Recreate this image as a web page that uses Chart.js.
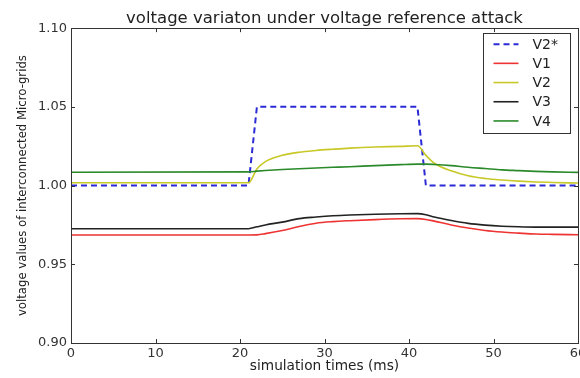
<!DOCTYPE html>
<html>
<head>
<meta charset="utf-8">
<script src="https://cdn.jsdelivr.net/npm/chart.js@4.4.1/dist/chart.umd.min.js"></script>
<style>
  html, body { margin: 0; padding: 0; background: #fff; }
  #chart-canvas { display: block; }
</style>
</head>
<body>
<canvas id="chart-canvas" width="580" height="378"></canvas>
<script>
// simulation time (ms)
const times = [0, 21, 22, 23, 25, 27, 29, 31, 33, 36, 39, 41, 42, 43, 45, 47, 49, 51, 53, 55, 57, 60];
const v2ref = [1.0, 1.0, 1.05, 1.05, 1.05, 1.05, 1.05, 1.05, 1.05, 1.05, 1.05, 1.05, 1.0, 1.0, 1.0, 1.0, 1.0, 1.0, 1.0, 1.0, 1.0, 1.0];
const v1 = [0.9686, 0.9686, 0.9687, 0.9695, 0.9715, 0.974, 0.9761, 0.9771, 0.9777, 0.9784, 0.9789, 0.979, 0.9785, 0.9774, 0.975, 0.973, 0.9715, 0.9705, 0.9698, 0.9692, 0.969, 0.9688];
const v2 = [1.0018, 1.0018, 1.0105, 1.0152, 1.0192, 1.0212, 1.0223, 1.0231, 1.0238, 1.0245, 1.0249, 1.0253, 1.0192, 1.0142, 1.0094, 1.0062, 1.0045, 1.0035, 1.0028, 1.0023, 1.002, 1.0016];
const v3 = [0.9726, 0.9726, 0.9738, 0.975, 0.9768, 0.979, 0.98, 0.9808, 0.9813, 0.9818, 0.9821, 0.9822, 0.9815, 0.98, 0.9778, 0.976, 0.9749, 0.9742, 0.9738, 0.9736, 0.9736, 0.9736];
const v4 = [1.0085, 1.0087, 1.0092, 1.0096, 1.0102, 1.0107, 1.0112, 1.0116, 1.012, 1.0127, 1.0133, 1.0136, 1.0136, 1.0134, 1.0127, 1.0116, 1.0108, 1.01, 1.0095, 1.009, 1.0087, 1.0084];

const seriesNames = ["V2*", "V1", "V2", "V3", "V4"];
const seriesValues = [v2ref, v1, v2, v3, v4];
const seriesColors = ["#2b2bd6", "#ee3333", "#c8c828", "#222222", "#2a8a2a"];

const xTicks = [0, 10, 20, 30, 40, 50, 60];
const yTicks = [0.9, 0.95, 1.0, 1.05, 1.1];

const FONT = "'DejaVu Sans', 'Liberation Sans', sans-serif";

function toPoints(values) {
  return times.map((t, i) => ({ x: t, y: values[i] }));
}

const datasets = seriesNames.map((name, i) => ({
  label: name,
  data: toPoints(seriesValues[i]),
  borderColor: seriesColors[i],
  backgroundColor: seriesColors[i],
  borderWidth: i === 0 ? 2 : 1.6,
  borderDash: i === 0 ? [6, 4] : [],
  pointRadius: 0,
  tension: 0,
  cubicInterpolationMode: i === 0 ? "default" : "monotone",
  order: seriesNames.length - i,
}));

// frame + inward ticks, like the original plot
const framePlugin = {
  id: "frame",
  afterDatasetsDraw(chart) {
    const { ctx, chartArea: a, scales } = chart;
    ctx.save();
    ctx.strokeStyle = "#333";
    ctx.lineWidth = 1;
    ctx.beginPath();
    xTicks.forEach((t) => {
      const px = Math.round(scales.x.getPixelForValue(t)) + 0.5;
      ctx.moveTo(px, a.bottom); ctx.lineTo(px, a.bottom - 4);
      ctx.moveTo(px, a.top); ctx.lineTo(px, a.top + 4);
    });
    yTicks.forEach((t) => {
      const py = Math.round(scales.y.getPixelForValue(t)) + 0.5;
      ctx.moveTo(a.left, py); ctx.lineTo(a.left + 4, py);
      ctx.moveTo(a.right, py); ctx.lineTo(a.right - 4, py);
    });
    ctx.stroke();
    ctx.strokeRect(Math.round(a.left) + 0.5, Math.round(a.top) + 0.5,
      Math.round(a.right - a.left), Math.round(a.bottom - a.top));
    ctx.restore();
  },
};

// legend box drawn inside the plot, upper right
const boxLegendPlugin = {
  id: "boxLegend",
  afterDraw(chart) {
    const { ctx, chartArea: a } = chart;
    const w = 87, h = 100;
    const left = a.right - 95.5;
    const top = a.top + 5;
    ctx.save();
    ctx.fillStyle = "#fff";
    ctx.fillRect(left, top, w, h);
    ctx.strokeStyle = "#333";
    ctx.lineWidth = 1;
    ctx.strokeRect(Math.round(left) + 0.5, Math.round(top) + 0.5, w, h);
    ctx.font = "14px " + FONT;
    ctx.textBaseline = "middle";
    chart.data.datasets.forEach((ds, i) => {
      const y = top + 11 + i * 19.2;
      ctx.strokeStyle = ds.borderColor;
      ctx.lineWidth = ds.borderWidth;
      ctx.setLineDash(ds.borderDash);
      ctx.beginPath();
      ctx.moveTo(left + 11, y);
      ctx.lineTo(left + 36, y);
      ctx.stroke();
      ctx.setLineDash([]);
      ctx.fillStyle = "#222";
      ctx.fillText(ds.label, left + 50, y + 1);
    });
    ctx.restore();
  },
};

const ctx = document.getElementById("chart-canvas").getContext("2d");
const myChart = new Chart(ctx, {
  type: "line",
  data: { datasets },
  options: {
    responsive: false,
    animation: false,
    layout: { padding: { left: 0, right: 2, top: 0, bottom: 0 } },
    plugins: {
      legend: { display: false },
      tooltip: { enabled: false },
      title: {
        display: true,
        fullSize: false,
        text: "voltage variaton under voltage reference attack",
        color: "#222",
        font: { family: FONT, size: 16.5, weight: "normal", lineHeight: 1.1 },
        padding: { top: 10, bottom: 0 },
      },
    },
    scales: {
      x: {
        type: "linear",
        min: 0,
        max: 60,
        grid: { display: false, drawTicks: false },
        border: { display: false },
        afterBuildTicks: (scale) => { scale.ticks = xTicks.map((v) => ({ value: v })); },
        ticks: {
          color: "#333",
          padding: 3,
          maxRotation: 0,
          autoSkip: false,
          font: { family: FONT, size: 13 },
          callback: (v) => String(v),
        },
        title: {
          display: true,
          text: "simulation times (ms)",
          color: "#222",
          font: { family: FONT, size: 13.7 },
          padding: { top: 0, bottom: 3 },
        },
        afterFit: (scale) => {
          scale.height = 35;
          scale.paddingLeft = 0;
          scale.paddingRight = 0;
        },
      },
      y: {
        min: 0.9,
        max: 1.1,
        grid: { display: false, drawTicks: false },
        border: { display: false },
        afterBuildTicks: (scale) => { scale.ticks = yTicks.map((v) => ({ value: v })); },
        ticks: {
          color: "#333",
          padding: 4,
          autoSkip: false,
          font: { family: FONT, size: 13 },
          callback: (v) => Number(v).toFixed(2),
        },
        title: {
          display: true,
          text: "voltage values of interconnected Micro-grids",
          color: "#222",
          font: { family: "'DejaVu Sans Condensed', " + FONT, size: 13 },
          padding: { top: 15, bottom: 0 },
        },
        afterFit: (scale) => {
          scale.width = 71;
          scale.paddingTop = 0;
          scale.paddingBottom = 0;
        },
      },
    },
  },
  plugins: [framePlugin, boxLegendPlugin],
});
</script>
</body>
</html>
